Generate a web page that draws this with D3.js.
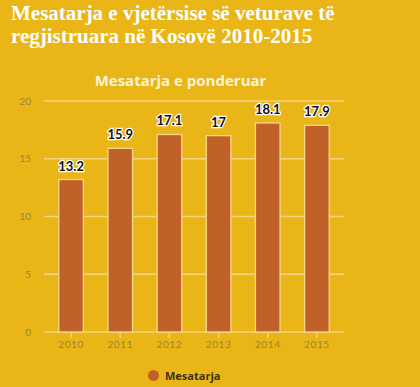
<!DOCTYPE html>
<html>
<head>
<meta charset="utf-8">
<script src="https://cdn.jsdelivr.net/npm/d3@7"></script>
<style>
  html, body { margin: 0; padding: 0; background: #eab517; }
  svg { display: block; }
</style>
</head>
<body>
<svg width="420" height="387"></svg>
<script>
// chart data
const years = ["2010", "2011", "2012", "2013", "2014", "2015"];
const values = [13.2, 15.9, 17.1, 17, 18.1, 17.9];
const yTicks = [0, 5, 10, 15, 20];
const titleLines = ["Mesatarja e vjetërsise së veturave të", "regjistruara në Kosovë 2010-2015"];
const subtitle = "Mesatarja e ponderuar";
const seriesName = "Mesatarja";

const svg = d3.select("svg");

svg.append("rect")
  .attr("width", 420)
  .attr("height", 387)
  .attr("fill", "#eab517");

// title
svg.append("g")
  .selectAll("text")
  .data(titleLines)
  .join("text")
  .attr("x", 11)
  .attr("y", (d, i) => 20 + i * 22.5)
  .attr("fill", "#ffffff")
  .attr("style", "font: bold 21px 'Liberation Serif', serif")
  .text((d) => d);

svg.append("text")
  .attr("x", 180.5)
  .attr("y", 86)
  .attr("text-anchor", "middle")
  .attr("fill", "#fdf3d6")
  .attr("style", "font: bold 15px 'Open Sans', sans-serif")
  .text(subtitle);

// scales
const xScale = d3.scaleBand().domain(years).range([46.5, 341.5]).paddingInner(0.5).paddingOuter(0.25);
const yScale = d3.scaleLinear().domain([0, 20]).range([332, 101]);

// grid lines
svg.append("g")
  .selectAll("line")
  .data(yTicks)
  .join("line")
  .attr("x1", 44)
  .attr("x2", 344)
  .attr("y1", (d) => yScale(d))
  .attr("y2", (d) => yScale(d))
  .attr("stroke", "#f4d57e")
  .attr("stroke-width", 1.3);

// y axis labels
const yAxis = svg.append("g")
  .attr("transform", "translate(44,0)")
  .call(d3.axisLeft(yScale).tickValues(yTicks).tickSize(0).tickPadding(13));
yAxis.select(".domain").remove();
yAxis.selectAll("text")
  .attr("fill", "#98863a")
  .attr("style", "font: 10px Lato, sans-serif");

// x axis
const xAxis = svg.append("g")
  .attr("transform", "translate(0,332)")
  .call(d3.axisBottom(xScale).tickSize(6).tickPadding(3));
xAxis.select(".domain").remove();
xAxis.selectAll("line").attr("stroke", "#f4d57e").attr("stroke-width", 1.3);
xAxis.selectAll("text")
  .attr("fill", "#98863a")
  .attr("letter-spacing", "0.6px")
  .attr("style", "font: 10px Lato, sans-serif");

// bars
svg.append("g")
  .selectAll("rect")
  .data(values)
  .join("rect")
  .attr("x", (d, i) => xScale(years[i]))
  .attr("y", (d) => yScale(d))
  .attr("width", xScale.bandwidth())
  .attr("height", (d) => yScale(0) - yScale(d))
  .attr("fill", "#c0612a")
  .attr("stroke", "#f6d98a")
  .attr("stroke-width", 1.3);

// value labels
svg.append("g")
  .selectAll("text")
  .data(values)
  .join("text")
  .attr("x", (d, i) => xScale(years[i]) + xScale.bandwidth() / 2)
  .attr("y", (d) => yScale(d) - 9)
  .attr("text-anchor", "middle")
  .attr("fill", "#111111")
  .attr("stroke", "#ffffff")
  .attr("stroke-width", 2.5)
  .attr("paint-order", "stroke")
  .attr("style", "font: bold 13px Lato, sans-serif")
  .text((d) => d);

// legend
svg.append("circle")
  .attr("cx", 153.5)
  .attr("cy", 375.5)
  .attr("r", 5.5)
  .attr("fill", "#c0612a");
svg.append("text")
  .attr("x", 165)
  .attr("y", 379.5)
  .attr("fill", "#3b3110")
  .attr("style", "font: bold 11px 'Open Sans', sans-serif")
  .text(seriesName);
</script>
</body>
</html>
